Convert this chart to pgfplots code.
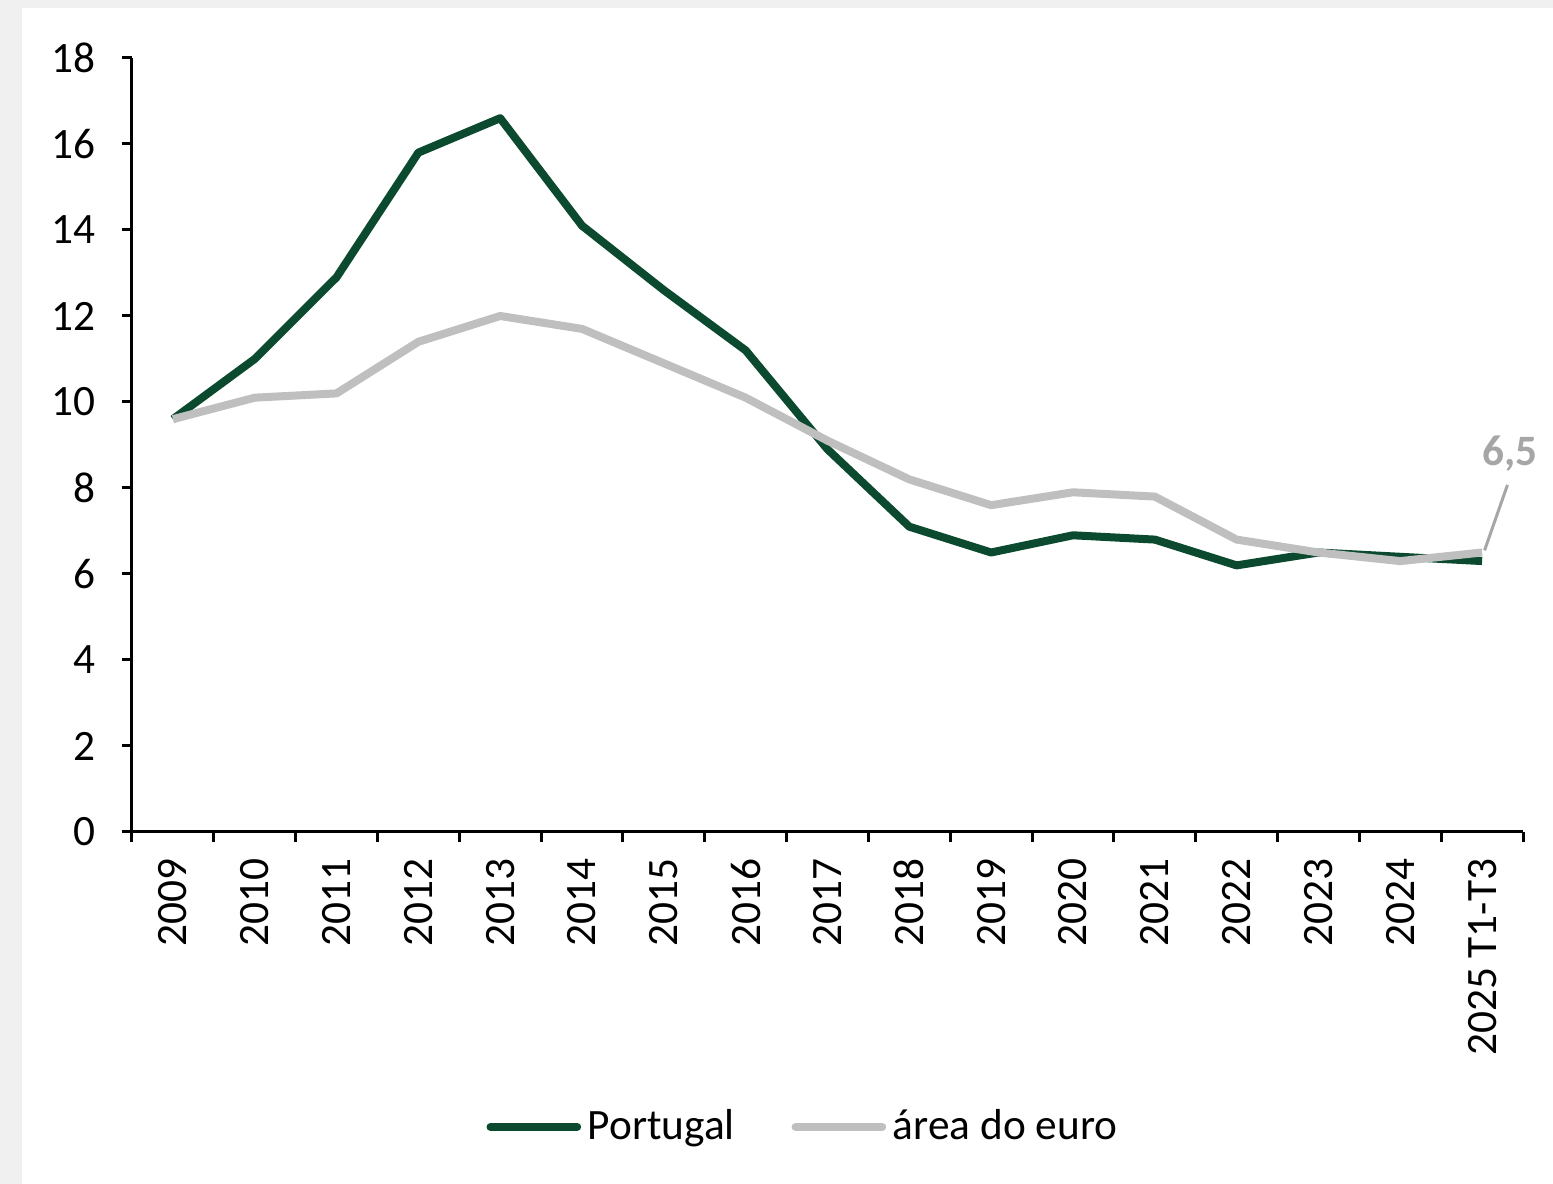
\documentclass[border=0pt]{standalone}
\usepackage{fontspec}
\setmainfont{Carlito}
\usepackage{pgfplots}
\pgfplotsset{compat=1.18}
\definecolor{ptgreen}{HTML}{0B4A2F}
\definecolor{eugray}{HTML}{BFBFBF}
\definecolor{bggray}{HTML}{F0F0F0}
\definecolor{lblgray}{HTML}{A6A6A6}
\newcommand{\tf}{\fontsize{13}{15}\selectfont}
\begin{document}
\begin{tikzpicture}
\fill[bggray] (-39.6pt,-105.6pt) rectangle (426.3pt,249.6pt);
\fill[white] (-33pt,-105.6pt) rectangle (426.3pt,247.2pt);
\begin{axis}[
  at={(0pt,0pt)}, anchor=south west,
  scale only axis, width=417.3pt, height=232.2pt,
  xmin=0.5, xmax=17.5, ymin=0, ymax=18,
  axis x line=bottom, axis y line=left,
  axis line style={-, line width=0.9pt, black},
  clip=false,
  tick align=outside,
  major tick length=3pt,
  tick style={line width=0.9pt, black},
  ytick={0,2,...,18},
  yticklabel style={font=\tf, xshift=-4.3pt},
  xtick={0.5,1.5,...,17.5},
  xticklabels={},
  extra x ticks={1,...,17},
  extra x tick labels={2009,2010,2011,2012,2013,2014,2015,2016,2017,2018,2019,2020,2021,2022,2023,2024,2025 T1-T3},
  extra x tick style={major tick length=0pt},
  xticklabel style={rotate=90, anchor=east, font=\tf, xshift=-4.5pt},
  /pgf/number format/assume math mode=true,
  legend style={at={(0.484,-0.381)}, anchor=center, draw=none, fill=none,
    legend columns=2, font=\tf,
    /tikz/every even column/.append style={column sep=15pt}},
  legend image code/.code={\draw[#1, line cap=round] (0pt,0pt) -- (26pt,0pt);},
]
\addplot[ptgreen, line width=2.4pt, line join=round] coordinates {
(1,9.6) (2,11.0) (3,12.9) (4,15.8) (5,16.6) (6,14.1) (7,12.6) (8,11.2) (9,8.9)
(10,7.1) (11,6.5) (12,6.9) (13,6.8) (14,6.2) (15,6.5) (16,6.4) (17,6.3)};
\addlegendentry{Portugal}
\addplot[eugray, line width=2.4pt, line join=round] coordinates {
(1,9.6) (2,10.1) (3,10.2) (4,11.4) (5,12.0) (6,11.7) (7,10.9) (8,10.1) (9,9.1)
(10,8.2) (11,7.6) (12,7.9) (13,7.8) (14,6.8) (15,6.5) (16,6.3) (17,6.5)};
\addlegendentry{área do euro}
\draw[lblgray, line width=0.9pt] (axis cs:17.03,6.55) -- (axis cs:17.31,8.07);
\node[lblgray, font=\bfseries\tf] at (axis cs:17.34,8.81) {6,5};
\end{axis}
\pgfresetboundingbox
\path (-39.6pt,-105.6pt) rectangle (426.3pt,249.6pt);
\end{tikzpicture}
\end{document}
